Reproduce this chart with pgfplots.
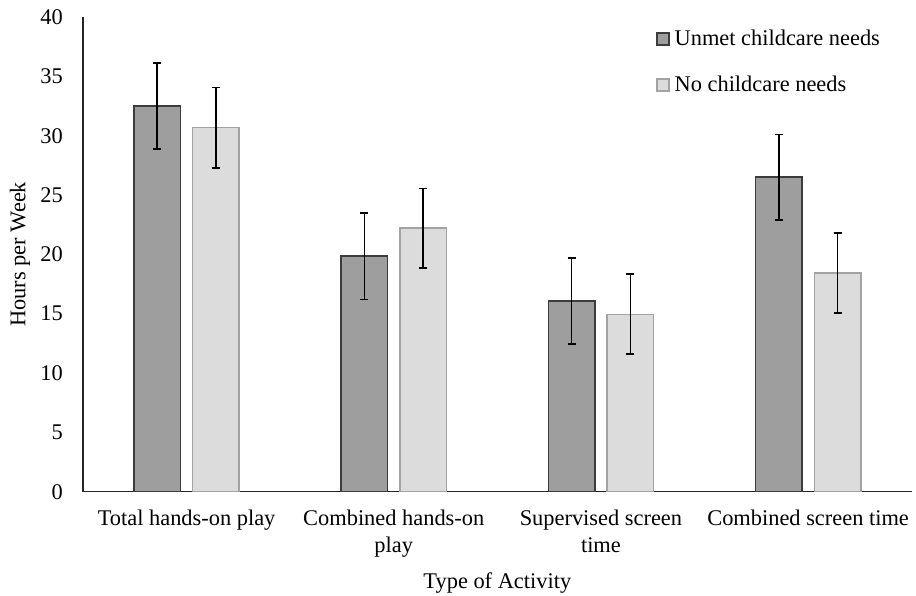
\documentclass[border=0pt]{standalone}
\usepackage{pgfplots}
\pgfplotsset{compat=1.18}
\usepackage{fontspec}
\setmainfont{Liberation Serif}
\definecolor{unmetfill}{HTML}{9E9E9E}
\definecolor{unmetdraw}{HTML}{3C3C3C}
\definecolor{nofill}{HTML}{DBDCDB}
\definecolor{nodraw}{HTML}{A3A3A3}
\begin{document}
\fontsize{22.4}{27}\selectfont
\begin{tikzpicture}
\path[use as bounding box] (-83pt,-104.3pt) rectangle (833pt,491.7pt);
\begin{axis}[
 at={(0,0)}, anchor=south west,
 scale only axis, width=828.7pt, height=474.7pt,
 ymin=0, ymax=40, ytick={0,5,...,40},
 xmin=-0.5, xmax=3.5, xtick={0,1,2,3},
 xticklabels={Total hands-on play, {Combined hands-on\\play}, {Supervised screen\\time}, Combined screen time},
 axis x line=bottom, axis y line=left,
 axis line style={-, line width=1.3pt, black!85},
 major tick length=0pt,
 tick style={draw=none},
 ybar, bar width=46.5pt,
 /pgf/number format/assume math mode=true,
 font=\fontsize{22.4}{27}\selectfont,
 ticklabel style={font=\fontsize{22.4}{27}\selectfont},
 xticklabel style={align=center, anchor=north, yshift=-11pt},
 yticklabel style={anchor=east, xshift=-12.5pt},
 xlabel={Type of Activity}, ylabel={Hours per Week},
 every axis x label/.style={at={(axis description cs:0.5,-0.192)}, anchor=center},
 every axis y label/.style={at={(axis description cs:-0.076,0.5)}, anchor=center, rotate=90},
 legend style={draw=none, fill=none, at={(rel axis cs:0.6914,0.978)}, anchor=north west,
   inner sep=0pt, row sep=23pt, nodes={inner sep=2pt}, font=\fontsize{22.4}{27}\selectfont},
 legend cell align=left,
 legend image code/.code={\draw[#1] (0pt,-6pt) rectangle (12pt,6pt); \path (15pt,0pt);},
 error bars/error bar style={line width=1.6pt, black},
 error bars/error mark options={rotate=90, mark size=4pt, line width=1.6pt, black},
]
\addplot[fill=unmetfill, draw=unmetdraw, line width=1.5pt, bar shift=-29.4pt,
  error bars/.cd, y dir=both, y explicit]
 coordinates {(0,32.5) +- (0,3.6) (1,19.85) +- (0,3.65) (2,16.07) +- (0,3.6) (3,26.5) +- (0,3.6)};
\addplot[fill=nofill, draw=nodraw, line width=1.5pt, bar shift=29.4pt,
  error bars/.cd, y dir=both, y explicit]
 coordinates {(0,30.67) +- (0,3.4) (1,22.2) +- (0,3.35) (2,14.95) +- (0,3.37) (3,18.43) +- (0,3.37)};
\legend{Unmet childcare needs, No childcare needs}
\end{axis}
\end{tikzpicture}
\end{document}
